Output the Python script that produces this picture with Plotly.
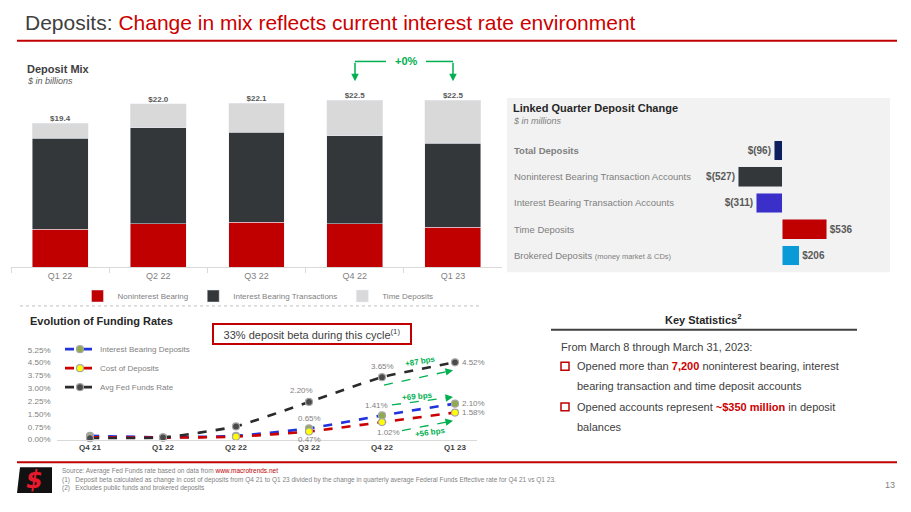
import plotly.graph_objects as go

# the page body adds an 8px margin on every side, so the figure is drawn
# 8px in from the corner and kept small enough to fit inside the window
OFF = 8
W, H = 911 - OFF, 512 - 2 * OFF - 6


# convert slide pixel positions to paper fractions
def px(x):
    return (x - OFF) / W


def py(y):
    return 1 - (y - OFF) / H


# Deposit mix, $ in billions
quarters = ["Q1 22", "Q2 22", "Q3 22", "Q4 22", "Q1 23"]
noninterest = [5.1, 5.9, 6.1, 5.9, 5.4]
interest_txn = [12.3, 12.9, 12.1, 11.8, 11.3]
time_dep = [2.0, 3.2, 3.9, 4.8, 5.8]
total_labels = ["$19.4", "$22.0", "$22.1", "$22.5", "$22.5"]

# Linked quarter deposit change, $ in millions
change_cats = ["Total Deposits", "Noninterest Bearing Transaction Accounts",
               "Interest Bearing Transaction Accounts", "Time Deposits", "Brokered Deposits"]
change_names = ["<b>Total Deposits</b>", "Noninterest Bearing Transaction Accounts",
                "Interest Bearing Transaction Accounts", "Time Deposits",
                "Brokered Deposits <span style='font-size:7.5px'>(money market & CDs)</span>"]
change_vals = [-96, -527, -311, 536, 206]
change_labels = ["$(96)", "$(527)", "$(311)", "$536", "$206"]
change_colors = ["#0d1f5c", "#33373a", "#3a2fc8", "#c00000", "#0a9ad8"]

# Evolution of funding rates, %
rate_quarters = ["Q4 21", "Q1 22", "Q2 22", "Q3 22", "Q4 22", "Q1 23"]
ib_deposits = [0.22, 0.13, 0.22, 0.65, 1.41, 2.10]
cost_deposits = [0.13, 0.11, 0.17, 0.47, 1.02, 1.58]
fed_funds = [0.08, 0.12, 0.77, 2.20, 3.65, 4.52]
rate_ticks = [0, 0.75, 1.5, 2.25, 3.0, 3.75, 4.5, 5.25]

GRAY = "#595959"
LIGHT = "#7f7f7f"
RED = "#c00000"
GREEN = "#00b050"
FONT = "Liberation Sans, Arial, sans-serif"
NARROW = "Liberation Sans Narrow, Liberation Sans, Arial, sans-serif"

fig = go.Figure()

# ---- Deposit mix stacked bars
for vals, name, color in [(noninterest, "Noninterest Bearing", RED),
                          (interest_txn, "Interest Bearing Transactions", "#33373a"),
                          (time_dep, "Time Deposits", "#d9d9d9")]:
    fig.add_trace(go.Bar(x=quarters, y=vals, name=name, marker_color=color,
                         width=0.57, xaxis="x", yaxis="y", legend="legend"))

totals = [a + b + c for a, b, c in zip(noninterest, interest_txn, time_dep)]
fig.add_trace(go.Scatter(x=quarters, y=totals, mode="text",
                         text=["<b>%s</b>" % t for t in total_labels],
                         textposition="top center", cliponaxis=False,
                         textfont=dict(size=8, color=GRAY), showlegend=False,
                         xaxis="x", yaxis="y"))

# ---- Linked quarter change bars
fig.add_trace(go.Bar(x=change_vals, y=change_cats, orientation="h", width=0.75,
                     marker_color=change_colors,
                     text=["<b>%s</b>" % t for t in change_labels],
                     textposition="outside", cliponaxis=False,
                     textfont=dict(size=10, color=GRAY), showlegend=False,
                     xaxis="x2", yaxis="y2"))

# ---- Funding rate lines
for vals, name, lcolor, mcolor in [(ib_deposits, "Interest Bearing Deposits", "#2233dd", "#8faa4f"),
                                   (cost_deposits, "Cost of Deposits", "#cc0000", "#ffff00"),
                                   (fed_funds, "Avg Fed Funds Rate", "#2b2b2b", "#4a4a4a")]:
    fig.add_trace(go.Scatter(x=rate_quarters, y=vals, name=name, mode="lines+markers",
                             line=dict(color=lcolor, width=2.6, dash="dash", shape="spline", smoothing=0.5),
                             marker=dict(size=7, color=mcolor, line=dict(color="#a6a6a6", width=1.2)),
                             cliponaxis=False, xaxis="x3", yaxis="y3", legend="legend2"))

shapes = []
annotations = []


def line(x0, y0, x1, y1, color, width=1, dash="solid"):
    shapes.append(dict(type="line", xref="paper", yref="paper",
                       x0=px(x0), y0=py(y0), x1=px(x1), y1=py(y1),
                       line=dict(color=color, width=width, dash=dash)))


def text(x, y, s, size=11, color=GRAY, align="left", family=FONT, angle=0):
    annotations.append(dict(xref="paper", yref="paper", x=px(x), y=py(y), text=s,
                            showarrow=False, xanchor=align, yanchor="middle",
                            textangle=angle, font=dict(size=size, color=color, family=family)))


def arrowhead(x, y, dx, dy, color):
    annotations.append(dict(xref="paper", yref="paper", x=px(x), y=py(y), ax=dx, ay=dy,
                            text="", showarrow=True, arrowhead=2, arrowsize=1,
                            arrowwidth=1.5, arrowcolor=color))


# slide title
text(23, 23, "Deposits: <span style='color:#cc0000'>Change in mix reflects current interest rate environment</span>",
     size=21, color="#404040", family=NARROW)
line(17, 41, 897, 41, RED, 2)

# deposit mix headings
text(25, 70, "<b>Deposit Mix</b>", size=11, color="#404040")
text(25, 82, "<i>$ in billions</i>", size=9, color=GRAY)

# +0% bracket
line(355, 62, 386, 62, GREEN, 1.5)
line(426, 62, 453, 62, GREEN, 1.5)
arrowhead(355, 82, 0, -20, GREEN)
arrowhead(453, 82, 0, -20, GREEN)
text(406, 62, "<b>+0%</b>", size=11, color=GREEN, align="center")

line(20, 309, 480, 309, "#bfbfbf", 1, "dot")

# linked quarter panel
shapes.append(dict(type="rect", xref="paper", yref="paper", layer="below",
                   x0=px(507), x1=px(890), y0=py(99), y1=py(275),
                   fillcolor="#f2f2f2", line=dict(width=0)))
text(511, 109, "<b>Linked Quarter Deposit Change</b>", size=11, color="#262626")
text(511, 122, "<i>$ in millions</i>", size=9, color=LIGHT)
for cat, name in zip(change_cats, change_names):
    annotations.append(dict(xref="paper", yref="y2", x=px(512), y=cat, text=name,
                            showarrow=False, xanchor="left", yanchor="middle",
                            font=dict(size=9.5, color=LIGHT)))

# funding rates
text(28, 324, "<b>Evolution of Funding Rates</b>", size=11, color="#262626")
annotations.append(dict(xref="paper", yref="paper", x=px(312), y=py(337),
                        xanchor="center", yanchor="middle",
                        text="33% deposit beta during this cycle<sup>(1)</sup>",
                        showarrow=False, width=194, height=16, borderpad=1,
                        bordercolor=RED, borderwidth=2, bgcolor="white",
                        font=dict(size=11, color="#404040")))

# point labels: (series, index, xshift, yshift)
label_spec = [(fed_funds, 3, -8, 11), (fed_funds, 4, 0, 11), (fed_funds, 5, 18, 0),
              (ib_deposits, 3, 0, 10), (ib_deposits, 4, -6, 10), (ib_deposits, 5, 18, 0),
              (cost_deposits, 3, 0, -8), (cost_deposits, 4, 6, -10), (cost_deposits, 5, 18, 0)]
for series, i, dx, dy in label_spec:
    annotations.append(dict(xref="x3", yref="y3", x=rate_quarters[i], y=series[i],
                            text="%.2f%%" % series[i], showarrow=False,
                            xshift=dx, yshift=dy, font=dict(size=8, color=LIGHT)))

# bps arrows
for (x0, y0, x1, y1), label, (tx, ty), ang in [
        ((384, 389, 453, 374), "+87 bps", (420, 365), -10),
        ((392, 409, 453, 401), "+69 bps", (417, 400), -5),
        ((402, 435, 453, 425), "+56 bps", (430, 437), -8)]:
    line(x0, y0, x1 - 4, y1 + (y0 - y1) * 4 / (x1 - x0), GREEN, 1.3, "dash")
    arrowhead(x1, y1, -7, 7 * (y0 - y1) / (x1 - x0), GREEN)
    text(tx, ty, "<b>%s</b>" % label, size=8, color=GREEN, align="center", angle=ang)

# key statistics
text(703, 322, "<b>Key Statistics<sup>2</sup></b>", size=11, color="#262626", align="center")
line(551, 333, 857, 333, "#404040", 2)
text(559, 350, "From March 8 through March 31, 2023:", size=11, color="#404040")
text(575, 370, "Opened more than <span style='color:#cc0000'><b>7,200</b></span> noninterest bearing, interest",
     size=11, color="#404040")
text(575, 390, "bearing transaction and time deposit accounts", size=11, color="#404040")
text(575, 411, "Opened accounts represent <span style='color:#cc0000'><b>~$350 million</b></span> in deposit",
     size=11, color="#404040")
text(575, 431, "balances", size=11, color="#404040")
for by in [370, 411]:
    shapes.append(dict(type="rect", xref="paper", yref="paper",
                       x0=px(561), x1=px(569), y0=py(by - 4), y1=py(by + 4),
                       line=dict(color=RED, width=1.5)))

# footer
line(17, 467, 897, 467, RED, 2)
shapes.append(dict(type="path", xref="paper", yref="paper",
                   path="M %f %f L %f %f L %f %f L %f %f Z" % (px(20), py(472), px(52), py(472),
                                                                px(52), py(498), px(17), py(498)),
                   fillcolor="#111111", line=dict(width=0)))
text(34, 485, "<b><i>$</i></b>", size=24, color="#e8192c", align="center", family="DejaVu Sans")
text(60, 476, "Source: Average Fed Funds rate based on data from "
     "<span style='color:#c00000'>www.macrotrends.net</span>", size=6.5, color=LIGHT, family=NARROW)
text(60, 485, "(1)   Deposit beta calculated as change in cost of deposits from Q4 21 to Q1 23 divided by the change "
     "in quarterly average Federal Funds Effective rate for Q4 21 vs Q1 23.", size=6.5, color=LIGHT, family=NARROW)
text(60, 493, "(2)   Excludes public funds and brokered deposits", size=6.5, color=LIGHT, family=NARROW)
text(897, 490, "13", size=9, color=LIGHT, align="right")

fig.update_layout(
    width=W, height=H,
    margin=dict(l=0, r=0, t=0, b=0),
    paper_bgcolor="white", plot_bgcolor="rgba(0,0,0,0)",
    font=dict(family=FONT, color=GRAY),
    barmode="stack",
    shapes=shapes, annotations=annotations,
    xaxis=dict(domain=[px(11), px(502)], anchor="y", range=[-0.5, 4.5],
               tickfont=dict(size=9, color=LIGHT), showline=True, linecolor="#d9d9d9",
               ticks="outside", tickson="boundaries", ticklen=5, tickcolor="#d9d9d9",
               showgrid=False),
    yaxis=dict(domain=[py(270), py(95)], anchor="x", range=[0, 23.33], visible=False),
    xaxis2=dict(domain=[px(731.9), px(840.5)], anchor="y2", range=[-600, 700], visible=False),
    yaxis2=dict(domain=[py(271.25), py(138.75)], anchor="x2", range=[4.5, -0.5], visible=False),
    xaxis3=dict(domain=[px(57.15), px(476.9)], anchor="y3", range=[-0.45, 5.3],
                tickfont=dict(size=8, color="#404040", family="Liberation Sans"),
                tickprefix="<b>", ticksuffix="</b>",
                showline=True, linecolor="#d9d9d9", showgrid=False, ticks=""),
    yaxis3=dict(domain=[py(444), py(347.3)], anchor="x3", range=[0, 5.6],
                tickvals=rate_ticks, ticktext=["%.2f%%" % t for t in rate_ticks],
                tickfont=dict(size=8, color=LIGHT), showgrid=False,
                zeroline=False, showline=False, ticks="outside", ticklen=4,
                tickcolor="rgba(0,0,0,0)"),
    legend=dict(orientation="h", x=px(258), xanchor="center", y=py(299), yanchor="middle",
                font=dict(size=8, color=LIGHT), bgcolor="rgba(0,0,0,0)", itemwidth=30,
                traceorder="normal"),
    legend2=dict(x=px(60), xanchor="left", y=py(338), yanchor="top",
                 font=dict(size=8, color=LIGHT), bgcolor="rgba(0,0,0,0)",
                 tracegroupgap=0, itemwidth=30),
)

fig.write_html("out.html")
